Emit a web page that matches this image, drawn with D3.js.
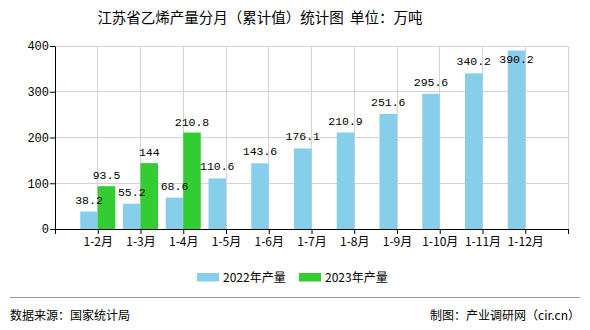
<!DOCTYPE html>
<html><head><meta charset="utf-8">
<script src="https://cdn.jsdelivr.net/npm/d3@7"></script>
<style>
body{margin:0;background:#fff;}
svg{display:block;}
text{fill:#000;}
</style></head>
<body>
<svg id="c" width="590" height="330"></svg>
<script>
const categories = ["1-2月","1-3月","1-4月","1-5月","1-6月","1-7月","1-8月","1-9月","1-10月","1-11月","1-12月"];
const values2022 = [38.2,55.2,68.6,110.6,143.6,176.1,210.9,251.6,295.6,340.2,390.2];
const values2023 = [93.5,144,210.8,null,null,null,null,null,null,null,null];
const yTicks = [0,100,200,300,400];
const seriesNames = ["2022年产量","2023年产量"];
const colors = ["#87CEEB","#33CC33"];

const svg = d3.select("#c");
const pL=55, pR=568, pT=46, pB=229;
const numFont = "'Liberation Mono','Noto Sans CJK SC',monospace";
const cjkFont = "'Noto Sans CJK SC','Liberation Mono',sans-serif";

const x = d3.scaleLinear().domain([0, categories.length+1]).range([pL,pR]);
const y = d3.scaleLinear().domain([0,400]).range([pB,pT]);
const barW = 17.5;

// title
svg.append("text").attr("x",260).attr("y",23).attr("text-anchor","middle")
  .style("font-family",cjkFont).style("font-size","14.5px").style("word-spacing","3px").text("江苏省乙烯产量分月（累计值）统计图 单位：万吨");

// grid
const g = svg.append("g");
g.selectAll("line.h").data(yTicks.filter(d=>d>0)).join("line")
  .attr("x1",pL).attr("x2",pR).attr("y1",d=>y(d)).attr("y2",d=>y(d))
  .attr("stroke","#d3d3d3").attr("stroke-width",1).attr("shape-rendering","crispEdges");
const vt = d3.range(1, categories.length+2);
g.selectAll("line.v").data(vt).join("line")
  .attr("x1",d=>x(d)).attr("x2",d=>x(d)).attr("y1",pT).attr("y2",pB)
  .attr("stroke","#d3d3d3").attr("stroke-width",1).attr("shape-rendering","crispEdges");

// bars
const idx = d3.range(categories.length);
svg.append("g").selectAll("rect").data(idx).join("rect")
  .attr("x",i=>x(i+1)-barW).attr("width",barW)
  .attr("y",i=>y(values2022[i])).attr("height",i=>y(0)-y(values2022[i]))
  .attr("fill",colors[0]);
const idx23 = idx.filter(i=>values2023[i]!=null);
svg.append("g").selectAll("rect").data(idx23).join("rect")
  .attr("x",i=>x(i+1)).attr("width",barW)
  .attr("y",i=>y(values2023[i])).attr("height",i=>y(0)-y(values2023[i]))
  .attr("fill",colors[1]);

// labels (clamped inside plot top)
const lblY = (v,off)=>Math.max(y(v)-off, pT+17);
svg.append("g").selectAll("text").data(idx).join("text")
  .attr("x",i=>x(i+1)-barW/2).attr("y",i=>lblY(values2022[i],8))
  .attr("text-anchor","middle").style("font-family",numFont).style("font-size","11.5px")
  .text(i=>values2022[i]);
svg.append("g").selectAll("text").data(idx23).join("text")
  .attr("x",i=>x(i+1)+barW/2).attr("y",i=>lblY(values2023[i],7))
  .attr("text-anchor","middle").style("font-family",numFont).style("font-size","11.5px")
  .text(i=>values2023[i]);

// y axis
const ya = svg.append("g").attr("transform",`translate(${pL},0)`)
  .call(d3.axisLeft(y).tickValues(yTicks).tickSize(5).tickSizeOuter(0));
ya.select(".domain").attr("stroke","#000");
ya.selectAll(".tick line").attr("stroke","#000");
ya.selectAll("text").style("font-family",numFont).style("font-size","12px").attr("x",-6).attr("fill","#000");

// x axis
const xa = svg.append("g").attr("transform",`translate(0,${pB})`)
  .call(d3.axisBottom(x).tickValues(d3.range(0,categories.length+2)).tickSize(5).tickSizeOuter(0)
    .tickFormat(d=> (d>=1 && d<=categories.length) ? categories[d-1] : ""));
xa.select(".domain").attr("stroke","#000");
xa.selectAll(".tick line").attr("stroke","#000");
xa.selectAll("text").style("font-family",cjkFont).style("font-size","12px").attr("dy","0.9em").attr("y",6).attr("fill","#000");

// legend
const lg = svg.append("g");
const lx = [197, 299];
seriesNames.forEach((n,k)=>{
  lg.append("rect").attr("x",lx[k]).attr("y",273).attr("width",22).attr("height",8.5).attr("fill",colors[k]);
  lg.append("text").attr("x",lx[k]+26).attr("y",282).style("font-family",cjkFont).style("font-size","12px").text(n);
});

// footer
svg.append("line").attr("x1",10).attr("x2",580).attr("y1",297.5).attr("y2",297.5).attr("stroke","#999").attr("stroke-width",1);
svg.append("text").attr("x",10).attr("y",320).style("font-family",cjkFont).style("font-size","12px").text("数据来源：国家统计局");
svg.append("text").attr("x",580).attr("y",320).attr("text-anchor","end").style("font-family",cjkFont).style("font-size","12px").text("制图：产业调研网（cir.cn）");
</script>
</body></html>
